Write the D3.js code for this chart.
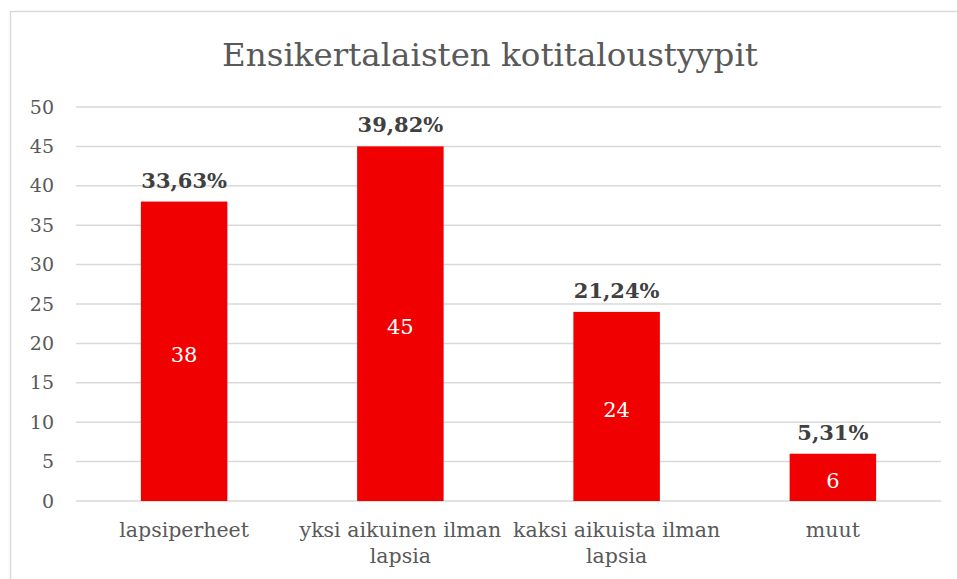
<!DOCTYPE html>
<html>
<head>
<meta charset="utf-8">
<script src="https://cdn.jsdelivr.net/npm/d3@7"></script>
<style>
  body { margin: 0; background: #fff; }
  text { font-family: "DejaVu Serif", Georgia, serif; }
</style>
</head>
<body>
<div id="chart"></div>
<script>
// Chart data
const categories = [['lapsiperheet'], ['yksi aikuinen ilman', 'lapsia'], ['kaksi aikuista ilman', 'lapsia'], ['muut']];
const values = [38, 45, 24, 6];
const percentLabels = ['33,63%', '39,82%', '21,24%', '5,31%'];
const yTicks = [0, 5, 10, 15, 20, 25, 30, 35, 40, 45, 50];

const width = 957, height = 579;
const margin = {top: 107, left: 76};
const plotW = 865;
const plotH = 501 - margin.top;

const svg = d3.select('#chart').append('svg')
  .attr('width', width)
  .attr('height', height);

// outer chart border (runs off the right and bottom edges)
svg.append('rect')
  .attr('x', 10.5)
  .attr('y', 11.5)
  .attr('width', width)
  .attr('height', height)
  .attr('fill', 'none')
  .attr('stroke', '#d9d9d9')
  .attr('stroke-width', 1.5);

const chart = svg.append('g')
  .attr('transform', `translate(${margin.left},${margin.top})`);

const x = d3.scaleBand()
  .domain(d3.range(values.length))
  .range([0, plotW])
  .paddingInner(0.6)
  .paddingOuter(0.3);

const y = d3.scaleLinear()
  .domain([0, 50])
  .range([plotH, 0]);

// gridlines
chart.selectAll('.grid')
  .data(yTicks)
  .join('line')
  .attr('class', 'grid')
  .attr('x1', 0)
  .attr('x2', plotW)
  .attr('y1', d => y(d))
  .attr('y2', d => y(d))
  .attr('stroke', '#d9d9d9')
  .attr('stroke-width', 1.5);

// y tick labels
chart.selectAll('.ytick')
  .data(yTicks)
  .join('text')
  .attr('class', 'ytick')
  .attr('x', -22)
  .attr('y', d => y(d))
  .attr('dy', '0.35em')
  .attr('text-anchor', 'end')
  .attr('fill', '#595959')
  .style('font-size', '19px')
  .text(d => d);

// bars
chart.selectAll('.bar')
  .data(values)
  .join('rect')
  .attr('class', 'bar')
  .attr('x', (d, i) => x(i))
  .attr('y', d => y(d))
  .attr('width', x.bandwidth())
  .attr('height', d => plotH - y(d))
  .attr('fill', '#f00000');

// value labels inside bars
chart.selectAll('.value-label')
  .data(values)
  .join('text')
  .attr('class', 'value-label')
  .attr('x', (d, i) => x(i) + x.bandwidth() / 2)
  .attr('y', d => (y(d) + plotH) / 2)
  .attr('dy', '0.5em')
  .attr('text-anchor', 'middle')
  .attr('fill', '#fff')
  .style('font-size', '21px')
  .text(d => d);

// percentage labels above bars
chart.selectAll('.pct-label')
  .data(values)
  .join('text')
  .attr('class', 'pct-label')
  .attr('x', (d, i) => x(i) + x.bandwidth() / 2)
  .attr('y', d => y(d) - 14)
  .attr('text-anchor', 'middle')
  .attr('fill', '#404040')
  .style('font-size', '21px')
  .style('font-weight', 'bold')
  .text((d, i) => percentLabels[i]);

// category labels
const catLabels = chart.selectAll('.cat-label')
  .data(categories)
  .join('text')
  .attr('class', 'cat-label')
  .attr('x', (d, i) => x(i) + x.bandwidth() / 2)
  .attr('y', plotH + 36)
  .attr('text-anchor', 'middle')
  .attr('fill', '#595959')
  .style('font-size', '20.5px');

catLabels.selectAll('tspan')
  .data(d => d)
  .join('tspan')
  .attr('x', function() { return d3.select(this.parentNode).attr('x'); })
  .attr('dy', (d, i) => i === 0 ? 0 : 26)
  .text(d => d);

// title
svg.append('text')
  .attr('x', 490)
  .attr('y', 66)
  .attr('text-anchor', 'middle')
  .attr('fill', '#595959')
  .style('font-size', '32.5px')
  .text('Ensikertalaisten kotitaloustyypit');
</script>
</body>
</html>
